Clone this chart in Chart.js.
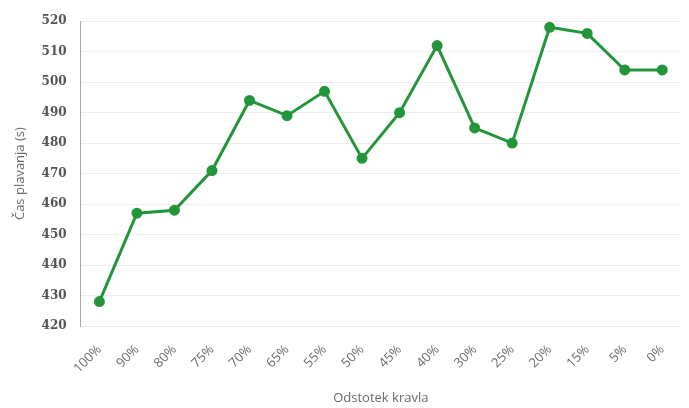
<!DOCTYPE html>
<html>
<head>
<meta charset="utf-8">
<script src="https://cdn.jsdelivr.net/npm/chart.js@4"></script>
<style>
  html, body { margin: 0; padding: 0; background: #fff; }
  #wrap { width: 689px; height: 408px; }
</style>
</head>
<body>
<div id="wrap"><canvas id="swimChart" width="689" height="408"></canvas></div>
<script>
// Data
const categories = ['100%', '90%', '80%', '75%', '70%', '65%', '55%', '50%', '45%', '40%', '30%', '25%', '20%', '15%', '5%', '0%'];
const swimTimes = [428, 457, 458, 471, 494, 489, 497, 475, 490, 512, 485, 480, 518, 516, 504, 504];
const yTicks = [420, 430, 440, 450, 460, 470, 480, 490, 500, 510, 520];

const lineColor = '#23953a';

new Chart(document.getElementById('swimChart'), {
    type: 'line',
    data: {
        labels: categories,
        datasets: [{
            data: swimTimes,
            borderColor: lineColor,
            backgroundColor: lineColor,
            borderWidth: 3,
            pointRadius: 4,
            pointHoverRadius: 4,
            tension: 0
        }]
    },
    options: {
        responsive: false,
        animation: false,
        layout: { padding: { left: 8, right: 8, top: 17, bottom: 0 } },
        plugins: {
            legend: { display: false },
            tooltip: { enabled: false }
        },
        scales: {
            x: {
                offset: true,
                grid: { display: false },
                border: { display: false },
                ticks: {
                    maxRotation: 45,
                    minRotation: 45,
                    padding: 8,
                    color: '#6a6a6a',
                    font: { family: 'Open Sans', size: 13 }
                },
                title: {
                    display: true,
                    text: 'Odstotek kravla',
                    color: '#6a6a6a',
                    font: { family: 'Open Sans', size: 13 },
                    padding: { top: 6, bottom: 2 }
                }
            },
            y: {
                min: 420,
                max: 520,
                afterBuildTicks: axis => { axis.ticks = yTicks.map(v => ({ value: v })); },
                grid: { color: '#ededed', drawTicks: false },
                border: { display: true, color: '#a9a9a9' },
                ticks: {
                    padding: 14,
                    color: '#555',
                    font: { family: 'DejaVu Serif', size: 12, weight: 'bold' }
                },
                title: {
                    display: true,
                    text: 'Čas plavanja (s)',
                    color: '#6a6a6a',
                    font: { family: 'Open Sans', size: 13 },
                    padding: { bottom: 0 }
                }
            }
        }
    }
});
</script>
</body>
</html>
